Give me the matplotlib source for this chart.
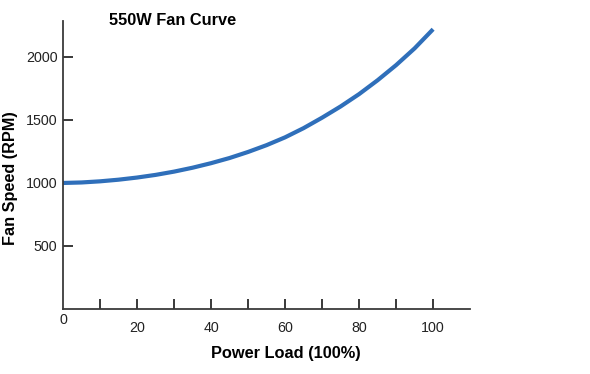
import matplotlib.pyplot as plt

plt.rcParams["font.family"] = ["Liberation Sans", "DejaVu Sans"]

# fan curve (every 5 %)
load_pct = [0, 5, 10, 15, 20, 25, 30, 35, 40, 45, 50,
            55, 60, 65, 70, 75, 80, 85, 90, 95, 100]
fan_rpm = [1000, 1004, 1013, 1026, 1043, 1064, 1090, 1121, 1157, 1198, 1246,
           1300, 1362, 1435, 1518, 1607, 1705, 1815, 1935, 2068, 2220]

x_ticks = [0, 10, 20, 30, 40, 50, 60, 70, 80, 90, 100]
x_labels = ["0", "", "20", "", "40", "", "60", "", "80", "", "100"]
y_ticks = [500, 1000, 1500, 2000]

fig = plt.figure(figsize=(5.9, 3.74), dpi=100)
ax = fig.add_axes([0.1068, 0.1738, 0.69, 0.77])

ax.plot(load_pct, fan_rpm, color="#2f6fba", lw=3.0, solid_capstyle="butt",
        solid_joinstyle="round")

ax.set_xlim(0, 110)
ax.set_ylim(0, 2285)
ax.set_xticks(x_ticks)
ax.set_xticklabels(x_labels)
ax.set_yticks(y_ticks)

for s in ("top", "right"):
    ax.spines[s].set_visible(False)
for s in ("left", "bottom"):
    ax.spines[s].set_color("#3a3a3a")
    ax.spines[s].set_linewidth(1.3)

ax.tick_params(axis="both", direction="in", length=7, width=1.3,
               color="#2a2a2a", labelsize=10.3, labelcolor="#222222")
ax.tick_params(axis="y", pad=4)
ax.tick_params(axis="x", pad=9)
# no tick mark at the origin, its label sits higher
t0 = ax.xaxis.get_major_ticks()[0]
t0.tick1line.set_visible(False)
t0.set_pad(3)

fig.text(0.292, 0.945, "550W Fan Curve", fontsize=11.8, fontweight="bold",
         ha="center", va="center")
fig.text(0.484, 0.056, "Power Load (100%)", fontsize=11.8, fontweight="bold",
         ha="center", va="center")
fig.text(0.017, 0.523, "Fan Speed (RPM)", fontsize=11.7, fontweight="bold",
         ha="center", va="center", rotation=90)

fig.savefig("out.png", dpi=100)
